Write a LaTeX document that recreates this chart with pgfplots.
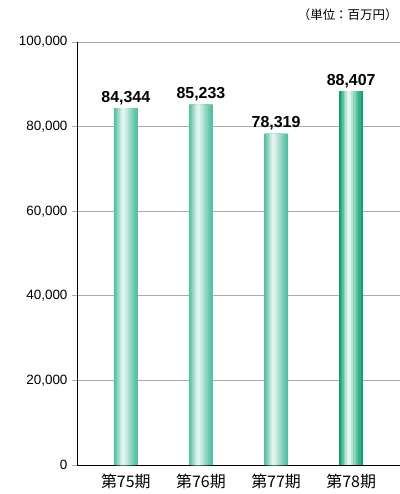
\documentclass[border=0pt]{standalone}
\usepackage{fontspec}
\setmainfont{Liberation Sans}
\newfontfamily\cjk{Noto Sans CJK JP}
\usepackage{pgfplots}
\usepackage{pgfplotstable}
\pgfplotsset{compat=1.18}
\definecolor{gA}{HTML}{55C0A2}
\definecolor{gB}{HTML}{0FA274}
\definecolor{gridg}{HTML}{AAAAAA}
\pgfplotstableread{
x y lab
0 84344 {84,344}
1 85233 {85,233}
2 78319 {78,319}
}\dataA
\pgfplotstableread{
x y lab
3 88407 {88,407}
}\dataB
\pgfplotsset{
  layer/.style n args={3}{ybar, draw=none, bar width=#1, bar shift=#2, fill=#3, forget plot},
}
\begin{document}
\begin{tikzpicture}
\path[use as bounding box] (-77bp,-29bp) rectangle (323bp,465bp);
\begin{axis}[
  at={(0,0)}, anchor=south west,
  scale only axis,
  width=323bp, height=423bp,
  xmin=-0.65, xmax=3.65,
  ymin=0, ymax=100000,
  axis x line*=bottom, axis y line*=left,
  x axis line style={black, line width=0.9pt, -},
  y axis line style={black, line width=0.9pt, -},
  ytick={0,20000,40000,60000,80000,100000},
  yticklabels={0,{20,000},{40,000},{60,000},{80,000},{100,000}},
  ymajorgrids,
  grid style={gridg, line width=0.8pt},
  major tick length=5bp,
  ytick style={gridg, line width=0.8pt},
  tick align=outside,
  xtick={0,1,2,3},
  xticklabels={第75期,第76期,第77期,第78期},
  xtick style={draw=none},
  xticklabel style={font=\cjk\fontsize{16}{16}\selectfont, yshift=-1bp},
  yticklabel style={font=\fontsize{13.5}{13.5}\selectfont, xshift=-1bp},
  scaled y ticks=false,
  clip=false,
]
% light bars: layered gradient
\addplot[layer={24bp}{0bp}{gA}, point meta=explicit symbolic, nodes near coords,
  nodes near coords style={font=\bfseries\fontsize{16}{16}\selectfont, text=black}]
  table[x=x, y=y, meta=lab] {\dataA};
\addplot[layer={20bp}{-0.5bp}{gA!85!white}] table[x=x, y=y] {\dataA};
\addplot[layer={16bp}{-1bp}{gA!70!white}] table[x=x, y=y] {\dataA};
\addplot[layer={12bp}{-1.5bp}{gA!52!white}] table[x=x, y=y] {\dataA};
\addplot[layer={8bp}{-2bp}{gA!35!white}] table[x=x, y=y] {\dataA};
\addplot[layer={4bp}{-2.5bp}{gA!18!white}] table[x=x, y=y] {\dataA};
% dark bar
\addplot[layer={24bp}{0bp}{gB}, point meta=explicit symbolic, nodes near coords,
  nodes near coords style={font=\bfseries\fontsize{16}{16}\selectfont, text=black}]
  table[x=x, y=y, meta=lab] {\dataB};
\addplot[layer={20bp}{-0.5bp}{gB!85!white}] table[x=x, y=y] {\dataB};
\addplot[layer={16bp}{-1bp}{gB!68!white}] table[x=x, y=y] {\dataB};
\addplot[layer={12bp}{-1.5bp}{gB!48!white}] table[x=x, y=y] {\dataB};
\addplot[layer={8bp}{-2bp}{gB!30!white}] table[x=x, y=y] {\dataB};
\addplot[layer={4bp}{-2.5bp}{gB!12!white}] table[x=x, y=y] {\dataB};
\end{axis}
\node[anchor=east, font=\cjk\fontsize{12.5}{12.5}\selectfont] at (324bp,450bp) {（単位：百万円）};
\end{tikzpicture}
\end{document}
